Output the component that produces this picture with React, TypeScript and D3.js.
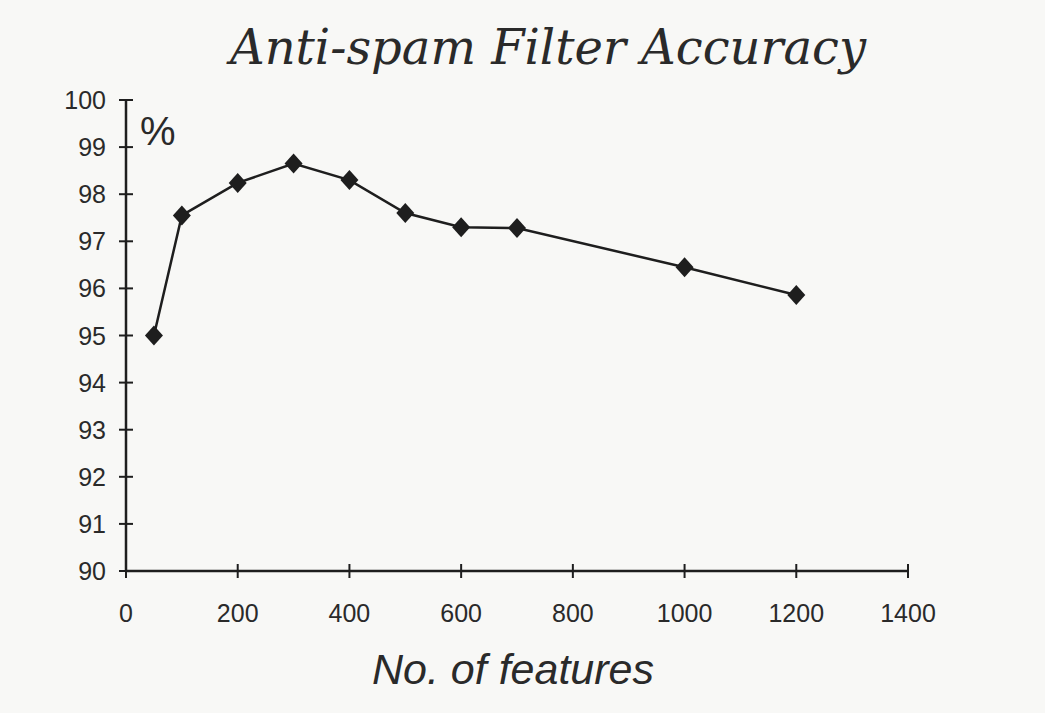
import React from "react";
import * as d3 from "d3";

const features = [50, 100, 200, 300, 400, 500, 600, 700, 1000, 1200];
const accuracy = [95.0, 97.55, 98.24, 98.65, 98.3, 97.6, 97.3, 97.28, 96.45, 95.86];
const xTicks = [0, 200, 400, 600, 800, 1000, 1200, 1400];
const yTicks = [90, 91, 92, 93, 94, 95, 96, 97, 98, 99, 100];

const W = 1045, H = 713;
const x = d3.scaleLinear().domain([0, 1400]).range([126, 908]);
const y = d3.scaleLinear().domain([90, 100]).range([571, 100]);

export default function App() {
  const line = d3.line<number>().x((_, i) => x(features[i])).y((d) => y(d))(accuracy) || "";
  const ink = "#1e1e1e";
  const txt = "#2a2a2a";
  const diamond = (cx: number, cy: number) => {
    const r = 10, w = 9;
    return `M${cx},${cy - r}L${cx + w},${cy}L${cx},${cy + r}L${cx - w},${cy}Z`;
  };
  return (
    <svg width={W} height={H} style={{ position: "absolute", left: 0, top: 0, display: "block" }}>
      <rect width={W} height={H} fill="#f8f8f6" />
      <text x={548} y={64} textAnchor="middle" fontFamily="'DejaVu Serif', serif" fontStyle="italic" fontSize={48} fill={txt}>
        Anti-spam Filter Accuracy
      </text>
      <text x={140} y={145} fontFamily="'Liberation Sans', Arial, sans-serif" fontSize={40} fill={txt}>%</text>
      {/* axes */}
      <line x1={x(0)} x2={x(0)} y1={y(100)} y2={y(90)} stroke={ink} strokeWidth={2.5} />
      <line x1={x(0)} x2={x(1400)} y1={y(90)} y2={y(90)} stroke={ink} strokeWidth={2.5} />
      {yTicks.map((t) => (
        <g key={"y" + t}>
          <line x1={x(0) - 7} x2={x(0) + 7} y1={y(t)} y2={y(t)} stroke={ink} strokeWidth={2} />
          <text x={106} y={y(t)} dy="0.36em" textAnchor="end" fontFamily="'Liberation Sans', Arial, sans-serif" fontSize={25} fill={txt}>{t}</text>
        </g>
      ))}
      {xTicks.map((t) => (
        <g key={"x" + t}>
          <line x1={x(t)} x2={x(t)} y1={y(90) - 7} y2={y(90) + 7} stroke={ink} strokeWidth={2} />
          <text x={x(t)} y={622} textAnchor="middle" fontFamily="'Liberation Sans', Arial, sans-serif" fontSize={25} fill={txt}>{t}</text>
        </g>
      ))}
      <text x={513} y={684} textAnchor="middle" fontFamily="'Liberation Sans', Arial, sans-serif" fontStyle="italic" fontSize={43} fill={txt}>
        No. of features
      </text>
      <path d={line} fill="none" stroke={ink} strokeWidth={2.5} />
      {accuracy.map((v, i) => (
        <path key={i} d={diamond(x(features[i]), y(v))} fill={ink} />
      ))}
    </svg>
  );
}
